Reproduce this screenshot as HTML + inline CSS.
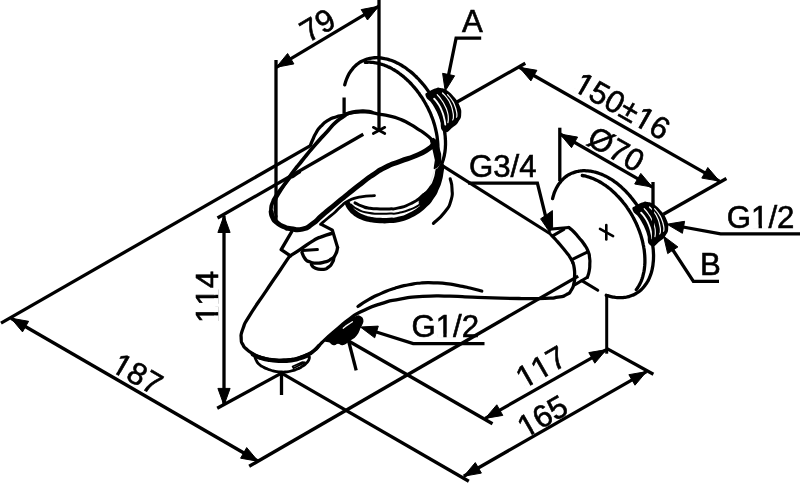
<!DOCTYPE html>
<html><head><meta charset="utf-8"><title>Bath mixer dimensions</title>
<style>
html,body{margin:0;padding:0;background:#fff;}
body{width:800px;height:483px;overflow:hidden;}
svg{display:block;}
text{font-family:"Liberation Sans",sans-serif;fill:#000;stroke:#000;stroke-width:0.6px;font-kerning:none;}
svg{will-change:transform;filter:grayscale(1);}
</style></head><body>
<svg width="800" height="483" viewBox="0 0 800 483">
<rect width="800" height="483" fill="#fff"/>
<g transform="translate(323 34.5) rotate(-30.5)"><text x="-17.4" y="0" font-size="31.2">79</text></g>
<g transform="translate(132 383.2) rotate(30)"><text x="-26" y="0" font-size="31.2">187</text><rect x="-24.55" y="-3.23" width="6.07" height="4.13" fill="#fff"/><rect x="-15.12" y="-3.23" width="5.83" height="4.13" fill="#fff"/></g>
<g transform="translate(217.6 297) rotate(-90)"><text x="-26" y="0" font-size="31.2">114</text><rect x="-24.55" y="-3.23" width="6.07" height="4.13" fill="#fff"/><rect x="-15.12" y="-3.23" width="5.83" height="4.13" fill="#fff"/><rect x="-7.20" y="-3.23" width="6.07" height="4.13" fill="#fff"/><rect x="2.23" y="-3.23" width="5.83" height="4.13" fill="#fff"/></g>
<g transform="translate(546.3 376.4) rotate(-29.8)"><text x="-26" y="0" font-size="31.2">117</text><rect x="-24.55" y="-3.23" width="6.07" height="4.13" fill="#fff"/><rect x="-15.12" y="-3.23" width="5.83" height="4.13" fill="#fff"/><rect x="-7.20" y="-3.23" width="6.07" height="4.13" fill="#fff"/><rect x="2.23" y="-3.23" width="5.83" height="4.13" fill="#fff"/></g>
<g transform="translate(547.7 425.5) rotate(-29.8)"><text x="-26" y="0" font-size="31.2">165</text><rect x="-24.55" y="-3.23" width="6.07" height="4.13" fill="#fff"/><rect x="-15.12" y="-3.23" width="5.83" height="4.13" fill="#fff"/></g>
<g transform="translate(616.9 115.3) rotate(29.6)"><text x="-51.9" y="0" font-size="31.2">150&#177;16</text><rect x="-50.47" y="-3.23" width="6.07" height="4.13" fill="#fff"/><rect x="-41.04" y="-3.23" width="5.83" height="4.13" fill="#fff"/><rect x="18.71" y="-3.23" width="6.07" height="4.13" fill="#fff"/><rect x="28.14" y="-3.23" width="5.83" height="4.13" fill="#fff"/></g>
<g transform="translate(610.8 158.4) rotate(29.6)"><text x="-29.5" y="0" font-size="31.2">&#216;70</text></g>
<g transform="translate(472.5 32.1) rotate(0)"><text x="-10.4" y="0" font-size="31.2">A</text></g>
<g transform="translate(502.7 177.1) rotate(0)"><text x="-33.8" y="0" font-size="31.2">G3/4</text></g>
<g transform="translate(760.6 228) rotate(0)"><text x="-33.8" y="0" font-size="31.2">G1/2</text><rect x="-8.08" y="-3.23" width="6.07" height="4.13" fill="#fff"/><rect x="1.35" y="-3.23" width="5.83" height="4.13" fill="#fff"/></g>
<g transform="translate(710.3 275.2) rotate(0)"><text x="-10.4" y="0" font-size="31.2">B</text></g>
<g transform="translate(445.3 337) rotate(0)"><text x="-33.8" y="0" font-size="31.2">G1/2</text><rect x="-8.08" y="-3.23" width="6.07" height="4.13" fill="#fff"/><rect x="1.35" y="-3.23" width="5.83" height="4.13" fill="#fff"/></g>
<line x1="276" y1="60" x2="276" y2="220" stroke="#000" stroke-width="3.3" stroke-linecap="butt"/>
<line x1="379" y1="0" x2="379" y2="130.5" stroke="#000" stroke-width="3.3" stroke-linecap="butt"/>
<line x1="276.3" y1="67.3" x2="378.8" y2="6.2" stroke="#000" stroke-width="3.3" stroke-linecap="butt"/>
<path d="M276.3 67.3 L287.6 53.5 L293.9 63.9 Z" fill="#000" stroke="#000" stroke-width="1" stroke-linejoin="miter"/>
<path d="M378.8 6.2 L367.5 20 L361.2 9.6 Z" fill="#000" stroke="#000" stroke-width="1" stroke-linejoin="miter"/>
<line x1="1" y1="323.1" x2="309.6" y2="146.1" stroke="#000" stroke-width="3.3" stroke-linecap="butt"/>
<line x1="11" y1="318.2" x2="258.2" y2="461.3" stroke="#000" stroke-width="3.3" stroke-linecap="butt"/>
<path d="M11 318.2 L28.6 321.3 L22.5 331.9 Z" fill="#000" stroke="#000" stroke-width="1" stroke-linejoin="miter"/>
<path d="M258.2 461.3 L240.6 458.2 L246.7 447.6 Z" fill="#000" stroke="#000" stroke-width="1" stroke-linejoin="miter"/>
<line x1="249.2" y1="466.3" x2="578.2" y2="276.1" stroke="#000" stroke-width="3.3" stroke-linecap="butt"/>
<line x1="217.5" y1="218" x2="363.3" y2="134.3" stroke="#000" stroke-width="3.3" stroke-linecap="butt"/>
<line x1="224" y1="215.7" x2="224" y2="405" stroke="#000" stroke-width="3.3" stroke-linecap="butt"/>
<path d="M224 215.7 L230.1 232.5 L217.9 232.5 Z" fill="#000" stroke="#000" stroke-width="1" stroke-linejoin="miter"/>
<path d="M224 405.2 L217.9 388.4 L230.1 388.4 Z" fill="#000" stroke="#000" stroke-width="1" stroke-linejoin="miter"/>
<line x1="217.2" y1="408.2" x2="281.5" y2="373.1" stroke="#000" stroke-width="3.3" stroke-linecap="butt"/>
<line x1="281.5" y1="373" x2="281.5" y2="395" stroke="#000" stroke-width="3.3" stroke-linecap="butt"/>
<line x1="281.5" y1="373.1" x2="468.8" y2="481.2" stroke="#000" stroke-width="3.3" stroke-linecap="butt"/>
<line x1="349" y1="341.2" x2="492.5" y2="423.8" stroke="#000" stroke-width="3.3" stroke-linecap="butt"/>
<line x1="348.6" y1="341" x2="356.2" y2="370.3" stroke="#000" stroke-width="3.3" stroke-linecap="butt"/>
<line x1="485.2" y1="418.4" x2="606.4" y2="349.6" stroke="#000" stroke-width="3.3" stroke-linecap="butt"/>
<path d="M485.2 418.4 L496.8 404.8 L502.8 415.4 Z" fill="#000" stroke="#000" stroke-width="1" stroke-linejoin="miter"/>
<path d="M606.4 349.6 L594.8 363.2 L588.8 352.6 Z" fill="#000" stroke="#000" stroke-width="1" stroke-linejoin="miter"/>
<line x1="463.8" y1="476.2" x2="646.5" y2="371.6" stroke="#000" stroke-width="3.3" stroke-linecap="butt"/>
<path d="M463.8 476.2 L475.3 462.6 L481.4 473.1 Z" fill="#000" stroke="#000" stroke-width="1" stroke-linejoin="miter"/>
<path d="M646.5 371.6 L635 385.2 L628.9 374.7 Z" fill="#000" stroke="#000" stroke-width="1" stroke-linejoin="miter"/>
<line x1="606.7" y1="295" x2="606.7" y2="353.7" stroke="#000" stroke-width="3" stroke-linecap="butt"/>
<line x1="606.6" y1="348.4" x2="653.4" y2="374.3" stroke="#000" stroke-width="3.3" stroke-linecap="butt"/>
<line x1="457" y1="102" x2="525.3" y2="63.3" stroke="#000" stroke-width="3.3" stroke-linecap="butt"/>
<line x1="663.4" y1="214.2" x2="726.4" y2="178.5" stroke="#000" stroke-width="3.3" stroke-linecap="butt"/>
<line x1="519.3" y1="67.3" x2="719.4" y2="181.1" stroke="#000" stroke-width="3.3" stroke-linecap="butt"/>
<path d="M519.3 67.3 L536.9 70.3 L530.9 80.9 Z" fill="#000" stroke="#000" stroke-width="1" stroke-linejoin="miter"/>
<path d="M719.4 181.1 L701.8 178.1 L707.8 167.5 Z" fill="#000" stroke="#000" stroke-width="1" stroke-linejoin="miter"/>
<line x1="559.8" y1="127.7" x2="559.8" y2="181" stroke="#000" stroke-width="3.3" stroke-linecap="butt"/>
<line x1="653" y1="182" x2="653" y2="206" stroke="#000" stroke-width="3.3" stroke-linecap="butt"/>
<line x1="560" y1="134" x2="652.3" y2="187.1" stroke="#000" stroke-width="3.3" stroke-linecap="butt"/>
<path d="M560 134 L577.6 137.1 L571.5 147.7 Z" fill="#000" stroke="#000" stroke-width="1" stroke-linejoin="miter"/>
<path d="M652.3 187.1 L634.7 184 L640.8 173.4 Z" fill="#000" stroke="#000" stroke-width="1" stroke-linejoin="miter"/>
<path d="M481.2 38.2 L456.1 38.2 L446.3 86" fill="none" stroke="#000" stroke-width="3.3" stroke-linecap="butt" stroke-linejoin="miter"/>
<path d="M445.2 91 L442.6 73.3 L454.6 75.8 Z" fill="#000" stroke="#000" stroke-width="1" stroke-linejoin="miter"/>
<path d="M468.1 183.2 L537.4 183.2 L548.5 228" fill="none" stroke="#000" stroke-width="3.3" stroke-linecap="butt" stroke-linejoin="miter"/>
<path d="M549.8 232.3 L540.6 218.8 L546 215.2 L552.4 210.6 L552.6 227Z" fill="#000" stroke="#000" stroke-width="1" stroke-linecap="butt" stroke-linejoin="round"/>
<path d="M800 233.9 L720.6 233.9 L672 225" fill="none" stroke="#000" stroke-width="3.3" stroke-linecap="butt" stroke-linejoin="miter"/>
<path d="M667 224.2 L684.6 221.3 L682.4 233.3 Z" fill="#000" stroke="#000" stroke-width="1" stroke-linejoin="miter"/>
<path d="M719 281.4 L693.4 281.4 L667 241" fill="none" stroke="#000" stroke-width="3.3" stroke-linecap="butt" stroke-linejoin="miter"/>
<path d="M663.6 236.2 L677.9 246.9 L667.7 253.6 Z" fill="#000" stroke="#000" stroke-width="1" stroke-linejoin="miter"/>
<path d="M484.5 343.6 L413.2 343.6 L366 328.8" fill="none" stroke="#000" stroke-width="3.3" stroke-linecap="butt" stroke-linejoin="miter"/>
<path d="M360.4 327 L378.3 326.1 L374.7 337.8 Z" fill="#000" stroke="#000" stroke-width="1" stroke-linejoin="miter"/>
<path d="M344.7 84.9 C345.1 83.8 345 83.7 345.7 81.5 C346.5 79.2 346.1 80.3 347 78.2 C347.9 76 347.4 77.1 348.4 75.1 C349.5 73.1 348.9 74 350.1 72.2 C351.3 70.4 350.6 71.2 352 69.6 C353.3 67.9 352.6 68.7 354 67.2 C355.5 65.6 354.7 66.4 356.3 65 C357.8 63.7 357 64.3 358.7 63.1 C360.4 62 359.5 62.5 361.3 61.5 C363.1 60.5 362.2 61 364.1 60.2 C366 59.4 365 59.7 367 59.1 C368.9 58.5 367.9 58.8 370 58.4 C372.1 58 371 58.1 373.1 57.9 C375.3 57.7 374.2 57.7 376.4 57.7 C378.6 57.7 377.5 57.7 379.7 57.9 C381.9 58.1 380.8 57.9 383.1 58.3 C385.4 58.7 384.2 58.4 386.5 59 C388.8 59.6 387.7 59.3 390 60 C392.3 60.8 391.2 60.4 393.5 61.3 C395.9 62.3 394.7 61.8 397 62.9 C399.4 64.1 398.2 63.4 400.5 64.8 C402.8 66.1 401.7 65.4 404 66.9 C406.3 68.4 405.1 67.6 407.4 69.3 C409.7 70.9 408.5 70.1 410.8 71.9 C413 73.7 411.9 72.8 414 74.7 C416.2 76.7 415.1 75.7 417.2 77.8 C419.3 79.9 418.3 78.8 420.3 81.1 C422.3 83.3 421.3 82.2 423.3 84.5 C425.2 86.9 424.2 85.7 426.1 88.1 C427.9 90.6 427 89.4 428.7 91.9 C430.5 94.5 429.6 93.2 431.3 95.9 C432.9 98.5 432.1 97.2 433.6 99.9 C435.1 102.6 434.4 101.2 435.7 104 C437.1 106.8 436.5 105.4 437.7 108.3 C438.9 111.1 438.4 109.7 439.5 112.5 C440.6 115.4 440.1 114 441 116.9 C442 119.7 441.5 118.3 442.3 121.2 C443.1 124.1 442.8 122.6 443.4 125.5 C444.1 128.4 443.8 127 444.3 129.9 C444.8 132.7 444.6 131.3 444.9 134.1 C445.3 137 445.2 135.6 445.3 138.4 C445.5 141.1 445.5 139.8 445.5 142.5 C445.5 145.2 445.6 143.9 445.4 146.5 C445.3 149.2 445.4 147.9 445.1 150.5 C444.8 153 445 151.8 444.5 154.2 C444.1 156.7 444.4 155.5 443.7 157.9 C443.1 160.2 443.5 159.1 442.7 161.3 C442 163.6 441.9 163.5 441.5 164.6" fill="none" stroke="#000" stroke-width="3.3" stroke-linecap="round" stroke-linejoin="round"/>
<path d="M365.3 62.4 C366 62.4 366 62.3 367.5 62.3 C368.9 62.2 368.2 62.2 369.6 62.2 C371.1 62.3 370.4 62.2 371.8 62.3 C373.3 62.5 372.6 62.4 374.1 62.6 C375.6 62.8 374.8 62.7 376.4 63 C377.9 63.2 377.1 63.1 378.6 63.4 C380.2 63.8 379.4 63.6 381 64.1 C382.5 64.5 381.7 64.3 383.3 64.8 C384.8 65.4 384.1 65.1 385.6 65.7 C387.2 66.3 386.4 66 387.9 66.7 C389.5 67.4 388.7 67 390.3 67.8 C391.8 68.6 391 68.2 392.6 69.1 C394.1 69.9 393.4 69.5 394.9 70.4 C396.4 71.4 395.7 70.9 397.2 71.9 C398.7 72.9 397.9 72.4 399.4 73.5 C401 74.6 400.2 74 401.7 75.2 C403.2 76.4 402.4 75.8 403.9 77 C405.4 78.2 404.6 77.6 406.1 78.9 C407.5 80.2 406.8 79.5 408.2 80.9 C409.6 82.3 408.9 81.6 410.3 83 C411.7 84.4 411 83.7 412.3 85.2 C413.7 86.7 413 85.9 414.3 87.4 C415.6 89 415 88.2 416.3 89.8 C417.5 91.4 416.9 90.6 418.1 92.2 C419.4 93.8 418.8 93 419.9 94.7 C421.1 96.4 420.5 95.5 421.7 97.2 C422.8 99 422.3 98.1 423.3 99.8 C424.4 101.6 423.9 100.7 424.9 102.5 C426 104.3 425.5 103.4 426.4 105.2 C427.4 107 426.9 106.1 427.9 108 C428.8 109.8 428.3 108.9 429.2 110.8 C430.1 112.6 429.7 111.7 430.5 113.6 C431.3 115.5 430.9 114.5 431.6 116.4 C432.4 118.3 432 117.4 432.7 119.3 C433.4 121.2 433.1 120.2 433.7 122.2 C434.3 124.1 434 123.1 434.6 125.1 C435.1 127 434.8 126 435.3 127.9 C435.8 129.9 435.6 128.9 436 130.8 C436.4 132.7 436.2 131.8 436.6 133.7 C436.9 135.6 436.8 134.7 437.1 136.6 C437.3 138.4 437.2 137.5 437.4 139.4 C437.6 141.3 437.6 140.3 437.7 142.2 C437.8 144 437.8 143.1 437.9 145 C437.9 146.8 437.9 145.9 437.9 147.7 C437.9 149.5 437.9 148.6 437.8 150.4 C437.8 152.1 437.8 151.3 437.7 153 C437.5 154.7 437.6 153.9 437.4 155.6 C437.2 157.3 437.2 157.3 437.1 158.1" fill="none" stroke="#000" stroke-width="3.3" stroke-linecap="round" stroke-linejoin="round"/>
<line x1="344.1" y1="97.5" x2="344.1" y2="113.8" stroke="#000" stroke-width="3.3" stroke-linecap="butt"/>
<path d="M427 96.5 C425.7 92.7 426.7 94.8 429.5 92.5 C432.3 90.2 431.8 90.8 435.5 89.6 C439.2 88.4 436.8 88.4 440.5 89 C444.2 89.6 442.2 88.5 446.5 91.5 C450.8 94.5 449.5 93.2 453.5 98 C457.5 102.8 456.3 100.7 458.5 106 C460.7 111.3 460.3 109.2 460.1 114 C459.9 118.8 460.4 116.5 457.9 120.5 C455.4 124.5 457.2 122.7 452.5 126 C447.8 129.3 447.7 133 443.7 130.3 C439.7 127.6 443.9 126.8 440.5 118 C437.1 109.2 438 111.2 433.5 104 C429 96.8 428.3 100.3 427 96.5Z" fill="#000" stroke="#000" stroke-width="2.2" stroke-linecap="round" stroke-linejoin="round"/>
<path d="M434.1 98.6 C435.5 100.4 435.8 100 438.3 104 C440.8 108 439.8 105.8 441.7 110.5 C443.6 115.2 442.9 113.3 444.1 118 C445.3 122.7 444.9 122.4 445.3 124.6" fill="none" stroke="#fff" stroke-width="1.8" stroke-linecap="round" stroke-linejoin="round"/>
<path d="M437.2 94.6 C438.6 96.4 438.9 96.2 441.5 100 C444.1 103.8 443 102 445 106 C447 110 446.3 108 447.4 112 C448.5 116 448.1 114.5 448.3 118 C448.5 121.5 448 121.1 447.9 122.6" fill="none" stroke="#fff" stroke-width="1.2" stroke-linecap="round" stroke-linejoin="round"/>
<path d="M442.5 93 C444 94.7 444.3 94.3 447 98 C449.7 101.7 448.6 99.7 450.5 104 C452.4 108.3 451.7 106.7 452.7 111 C453.7 115.3 453.4 114 453.4 117 C453.4 120 452.9 119 452.7 120" fill="none" stroke="#fff" stroke-width="1.2" stroke-linecap="round" stroke-linejoin="round"/>
<path d="M447.5 94.6 C448.8 96.2 449.2 96 451.5 99.5 C453.8 103 452.9 101.2 454.5 105 C456.1 108.8 455.6 107.5 456.4 111 C457.2 114.5 456.9 113.4 456.9 115.5 C456.9 117.6 456.6 116.6 456.5 117.2" fill="none" stroke="#fff" stroke-width="1.2" stroke-linecap="round" stroke-linejoin="round"/>
<line x1="373.3" y1="127.3" x2="384.8" y2="133.5" stroke="#000" stroke-width="2.7" stroke-linecap="round"/>
<line x1="373.3" y1="133.5" x2="384.8" y2="127.3" stroke="#000" stroke-width="2.7" stroke-linecap="round"/>
<path d="M433.8 141.5 C431.2 139.2 431.4 138.7 426 134.5 C420.6 130.3 423.5 132.6 417.5 128.8 C411.5 125 414.2 126.3 408 123 C401.8 119.7 404.8 121.1 398.8 118.8 C392.8 116.5 397.1 117.9 390 116.2 C382.9 114.5 385.8 115.2 377.5 113.8 C369.2 112.4 373.3 112.3 365 111.9 C356.7 111.5 359.6 111.6 352.5 112.7 C345.4 113.8 349.3 113.8 343.8 115.2 C338.3 116.6 341.1 115.3 336 117 C330.9 118.7 333.4 117.1 328.4 120.2 C323.4 123.3 325.1 121.9 321 126.2 C316.9 130.5 318.8 128.4 316 133 C313.2 137.6 314.5 135.8 312.6 140 C310.7 144.2 311.1 143.7 310.4 145.5" fill="none" stroke="#000" stroke-width="3.3" stroke-linecap="round" stroke-linejoin="round"/>
<path d="M346 114 C349.3 113.2 349.3 112.5 356 111.6 C362.7 110.7 360.7 111 366 111.2 C371.3 111.4 370 111.9 372 112.2" fill="none" stroke="#000" stroke-width="3.6" stroke-linecap="round" stroke-linejoin="round"/>
<path d="M345 115.6 C342.1 117.7 342 116.7 336.2 121.9 C330.4 127.1 334.1 124 327.5 131.2 C320.9 138.4 323.4 135.4 316.3 143.5 C309.2 151.6 311.6 149 306.2 155.5 C300.8 162 304.3 158 300.2 163 C296.1 168 299.1 163.8 294 170.6 C288.9 177.4 290.9 175.2 285 183.5 C279.1 191.8 280.3 189.2 276.2 195.5 C272.1 201.8 274.3 198.2 272.6 202.5 C270.9 206.8 271.4 204.7 271 208.5 C270.6 212.3 271.3 212.2 271.4 214" fill="none" stroke="#000" stroke-width="3.7" stroke-linecap="round" stroke-linejoin="round"/>
<path d="M300 172.4 C298 173.7 298 173.3 294 176.2 C290 179.1 292.9 175.1 288 181 C283.1 186.9 283.3 187.3 279.2 194 C275.1 200.7 277.3 197 275.8 201 C274.3 205 275.1 202.7 274.8 206 C274.5 209.3 274.5 207.5 275 211 C275.5 214.5 275.9 214.7 276.4 216.5" fill="none" stroke="#000" stroke-width="2.3" stroke-linecap="round" stroke-linejoin="round"/>
<path d="M271.2 212 C271.7 213.9 270.9 214.1 272.8 217.6 C274.7 221.1 273.3 219.5 277 222.6 C280.7 225.7 279.3 224.8 284 226.8 C288.7 228.8 284.8 227.9 291 228.7 C297.2 229.5 295.3 230.7 302.5 229.1 C309.7 227.5 305.8 228.5 312.5 223.8 C319.2 219.1 315 221.4 322.5 215 C330 208.6 326.4 211.7 335 204.6 C343.6 197.5 339.2 201 348.4 193.6 C357.6 186.2 354.3 188.8 362.5 182.5 C370.7 176.2 365.5 179.8 373 174.8 C380.5 169.8 376 172 385 167.5 C394 163 390 165.1 400 161.3 C410 157.5 405.8 159.9 415 156 C424.2 152.1 421.2 153.7 427.5 149.6 C433.8 145.5 431.7 145.7 433.8 143.8" fill="none" stroke="#000" stroke-width="5" stroke-linecap="round" stroke-linejoin="round"/>
<path d="M320.5 224.3 C323 222.2 323.2 222 328 218 C332.8 214 330.7 216.2 335 212.3 C339.3 208.4 336.3 210.3 341 206.4 C345.7 202.5 342.3 203.7 349 200.5 C355.7 197.3 352.5 198.4 361 196.8 C369.5 195.2 370 196.1 374.5 195.7" fill="none" stroke="#000" stroke-width="2.8" stroke-linecap="round" stroke-linejoin="round"/>
<path d="M430.6 140.6 L433.4 138.6 L436.6 141 L440.4 154 L440.6 162 L437.6 166.5 L434.4 168.4 L435.6 160 L433.6 151Z" fill="#000" stroke="#000" stroke-width="1.5" stroke-linecap="butt" stroke-linejoin="round"/>
<path d="M347.5 203.5 C348.5 205.2 348 205.3 350.5 208.5 C353 211.7 351.2 210.2 355 213 C358.8 215.8 357 214.9 362 217 C367 219.1 364 218.2 370 219.4 C376 220.6 373.5 220.2 380 220.5 C386.5 220.8 383.3 220.8 389.5 220.4 C395.7 220 391.4 221.1 398.6 219.3 C405.8 217.5 402.7 219.3 411 214.9 C419.3 210.5 416.7 212.2 423.5 206.2 C430.3 200.2 427.2 203.1 431.5 197 C435.8 190.9 433.8 193.7 436.4 188 C439 182.3 437.8 185.2 439.3 180 C440.8 174.8 440 177 440.8 172.5 C441.6 168 441.3 168.5 441.6 166.5" fill="none" stroke="#000" stroke-width="5.4" stroke-linecap="round" stroke-linejoin="round"/>
<path d="M355 202.8 C357.3 203.9 357 204.4 362 206.2 C367 208 364 207.4 370 208.3 C376 209.2 373.5 208.7 380 208.9 C386.5 209.1 383.3 209.2 389.5 208.9 C395.7 208.6 391.4 209.7 398.6 207.9 C405.8 206.1 403.1 207.5 411 203.5 C418.9 199.5 416 201 422.2 196 C428.4 191 425.5 193.9 429.7 188.6 C433.9 183.3 432.3 186.2 434.7 180 C437.1 173.8 436.2 173.3 437 170" fill="none" stroke="#000" stroke-width="3" stroke-linecap="round" stroke-linejoin="round"/>
<path d="M351 204.5 C353.3 206.2 352.3 206.7 358 209.5 C363.7 212.3 360.7 211.4 368 212.8 C375.3 214.2 372.7 213.4 380 213.7 C387.3 214 383.8 213.9 390 213.6 C396.2 213.3 391.6 214.4 398.6 212.9 C405.6 211.4 403.5 212.2 411 209.1 C418.5 206 415.3 207.7 421 203.5 C426.7 199.3 425.7 198.8 428 196.5" fill="none" stroke="#000" stroke-width="2" stroke-linecap="round" stroke-linejoin="round"/>
<path d="M420 198 C422.1 192.1 424.8 194.6 429.7 188.6 C434.6 182.6 432.3 186.2 434.7 180 C437.1 173.8 434.7 174.5 437 170 C439.3 165.5 440.3 165.7 441.6 166.5 C442.9 167.3 441.6 168 440.8 172.5 C440 177 440.8 174.8 439.3 180 C437.8 185.2 439 182.3 436.4 188 C433.8 193.7 435.8 190.9 431.5 197 C427.2 203.1 427.3 205.9 423.5 206.2 C419.7 206.5 417.9 203.9 420 198Z" fill="#000" stroke="#000" stroke-width="1" stroke-linecap="round" stroke-linejoin="round"/>
<path d="M450.2 178.7 C450.8 182 451.8 181.2 452 188.6 C452.2 196 453.3 193.1 450.8 201 C448.3 208.9 450.4 204.7 444.6 212.2 C438.8 219.7 437.1 219.7 433.4 223.4" fill="none" stroke="#000" stroke-width="3.1" stroke-linecap="round" stroke-linejoin="round"/>
<path d="M436.5 167 C435 170.7 434.3 170.3 432 178 C429.7 185.7 430.3 186 429.5 190" fill="none" stroke="#000" stroke-width="0.1" stroke-linecap="round" stroke-linejoin="round"/>
<path d="M291.8 231.5 L281.2 249.6 L290.4 255.8" fill="none" stroke="#000" stroke-width="3.4" stroke-linecap="round" stroke-linejoin="round"/>
<path d="M290.4 255.8 C293.6 253.7 292.2 254.7 300 249.6 C307.8 244.5 306.5 244.7 313.8 240.4 C321.1 236.1 315.8 239 322 236.6 C328.2 234.2 329 234.3 332.5 233.2" fill="none" stroke="#000" stroke-width="3.4" stroke-linecap="round" stroke-linejoin="round"/>
<path d="M321.8 224.6 L332.4 230.2 L337.6 247.5" fill="none" stroke="#000" stroke-width="3.2" stroke-linecap="round" stroke-linejoin="round"/>
<line x1="302.6" y1="250.6" x2="317.4" y2="249.5" stroke="#000" stroke-width="3" stroke-linecap="round"/>
<path d="M337.6 247.5 C336.9 249.8 337.7 250.6 335.5 254.5 C333.3 258.4 334.8 256.6 331 259.2 C327.2 261.8 328.9 260.9 324 262.2 C319.1 263.5 321 263.2 316.2 263.1 C311.4 263 313.2 263.3 309.5 261.8 C305.8 260.3 307.5 261.7 305 258.6 C302.5 255.5 303 254.6 302 252.6" fill="none" stroke="#000" stroke-width="3.3" stroke-linecap="round" stroke-linejoin="round"/>
<path d="M311.4 264.6 C312.6 265.8 311.3 266.5 315 268.1 C318.7 269.7 318 269.7 322.5 269.4 C327 269.1 325.2 269.5 328.5 267.2 C331.8 264.9 330.6 265.4 332.4 262.5 C334.2 259.6 333.3 259.8 333.8 258.4" fill="none" stroke="#000" stroke-width="3.3" stroke-linecap="round" stroke-linejoin="round"/>
<path d="M289.4 256.4 C286.4 260.9 288 258.6 280.3 270 C272.6 281.4 276.3 275.7 266.3 290.6 C256.3 305.5 258 302 250.2 314.6 C242.4 327.2 246 320.4 243 328.5 C240 336.6 241.2 333.4 241.2 338.8 C241.2 344.2 241.3 341.4 243 344.8 C244.7 348.2 243.6 346.3 246.4 349 C249.2 351.7 247.8 350.6 251.5 353 C255.2 355.4 252.7 354.3 257.5 356.2 C262.3 358.1 260.6 357.5 266 358.8 C271.4 360.1 268.1 359.5 273.8 360 C279.5 360.5 276.8 360.4 283 360.2 C289.2 360 286.7 360.2 292.5 359.4 C298.3 358.6 295.5 359.2 300.5 357.8 C305.5 356.4 303.5 357.1 307.5 355.2 C311.5 353.3 309.2 354.7 312.5 352 C315.8 349.3 313.3 351.3 317.5 347.2 C321.7 343.1 318.3 345.7 325 339.6 C331.7 333.5 329.2 335.8 337.5 328.8 C345.8 321.8 341.7 324.5 350 318.6 C358.3 312.7 352.1 316 362.5 311 C372.9 306 368.7 307.5 381.2 303.6 C393.7 299.7 386.2 301.6 400 299.2 C413.8 296.8 405.9 297.4 422.6 296.4 C439.3 295.4 431.6 295.9 450 296.2 C468.4 296.5 454.7 296.5 477.7 297.3 C500.7 298.1 496.6 298.2 519 298.5 C541.4 298.8 532 298.7 545 298.3 C558 297.9 551 298.3 558 297.2 C565 296.1 561.6 297.2 566 294.9 C570.4 292.6 568.6 294.2 571.3 290.2 C574 286.2 572.9 287.7 574 283 C575.1 278.3 574.5 281.1 574.6 276.1 C574.7 271.1 574.8 272.5 574.2 268 C573.6 263.5 573.3 264.3 572.8 262.5" fill="none" stroke="#000" stroke-width="3.3" stroke-linecap="round" stroke-linejoin="round"/>
<path d="M300 357.6 C302.7 356.5 303.3 356.7 308 354.4 C312.7 352.1 310.3 353.5 314 350.6 C317.7 347.7 317.3 347.3 319 345.6" fill="none" stroke="#000" stroke-width="3.6" stroke-linecap="round" stroke-linejoin="round"/>
<path d="M253 354.6 C255.3 355.6 255 355.9 260 357.6 C265 359.3 262.7 358.6 268 359.6 C273.3 360.6 270.7 360.2 276 360.6 C281.3 361 278.5 361 284 360.8 C289.5 360.6 287.2 360.9 292.5 360 C297.8 359.1 295.2 359.7 300 358.2 C304.8 356.7 304.7 356.5 307 355.6" fill="none" stroke="#000" stroke-width="4.4" stroke-linecap="round" stroke-linejoin="round"/>
<path d="M357.9 306.5 C361.6 304.1 361.2 303.8 369 299.4 C376.8 295 372.6 297.1 381.3 293.4 C390 289.7 385.8 291.1 395 288.2 C404.2 285.3 400.1 286.5 408.8 284.8 C417.5 283.1 412.7 283.7 421 283 C429.3 282.3 425.3 282.6 433.6 282.8 C441.9 283 437.7 282.7 446 283.6 C454.3 284.5 450.4 284.1 458.4 285.6 C466.4 287.1 462.2 286.2 470 288 C477.8 289.8 477.9 290 481.8 291" fill="none" stroke="#000" stroke-width="3.2" stroke-linecap="round" stroke-linejoin="round"/>
<path d="M255 357.5 C255.5 358.7 255.3 358.8 256.6 361 C257.9 363.2 256.8 362.1 258.8 364 C260.8 365.9 259.6 364.9 262.5 366.6 C265.4 368.3 264 367.6 267.5 369 C271 370.4 268.8 369.8 273 370.8 C277.2 371.8 275.3 371.6 280 371.9 C284.7 372.2 282.8 372.2 287 371.8 C291.2 371.4 288.8 371.6 292.5 370.6 C296.2 369.6 294.7 370.3 298 368.8 C301.3 367.3 299.7 368.1 302.5 366.2 C305.3 364.3 304.3 365.1 306.4 363 C308.5 360.9 307.8 361.8 308.8 359.8 C309.8 357.8 309.2 357.9 309.4 356.9" fill="none" stroke="#000" stroke-width="2.8" stroke-linecap="round" stroke-linejoin="round"/>
<path d="M292.6 366.6 L293.6 368.2 L305 362.4 L302 362.2Z" fill="none" stroke="#000" stroke-width="1.7" stroke-linecap="butt" stroke-linejoin="round"/>
<path d="M326.2 338.8 C328.7 334.8 330.6 335.3 337.5 330 C344.4 324.7 341.2 327.2 347 323 C352.8 318.8 350.7 319.6 355 317.5 C359.3 315.4 357.5 315.9 360 316.7 C362.5 317.5 362.1 317.4 362.6 320 C363.1 322.6 362.5 322 361.6 324.5 C360.7 327 361.8 324 360 327.5 C358.2 331 359.5 330.8 356.2 335 C352.9 339.2 353.2 337.5 350 340 C346.8 342.5 349 341 346.5 342.5 C344 344 345.3 344.2 342.5 344.4 C339.7 344.6 340.9 343 338 343 C335.1 343 336.5 344.8 333.8 344.4 C331.1 344 332.5 343.8 330 341.9 C327.5 340 323.7 342.8 326.2 338.8Z" fill="#000" stroke="#000" stroke-width="1.5" stroke-linecap="round" stroke-linejoin="round"/>
<path d="M343.2 328.2 C344.8 327 344.9 326.7 348 324.6 C351.1 322.5 350.9 322.7 352.4 321.8" fill="none" stroke="#fff" stroke-width="1.3" stroke-linecap="round" stroke-linejoin="round"/>
<line x1="441.9" y1="165.4" x2="550.6" y2="234" stroke="#000" stroke-width="3.1" stroke-linecap="butt"/>
<path d="M551.9 229 L568.8 227.5" fill="none" stroke="#000" stroke-width="3.2" stroke-linecap="round" stroke-linejoin="miter"/>
<path d="M568.8 227.5 C570.5 229 570.7 228.7 574 232 C577.3 235.3 575.5 233.5 578.8 237.5 C582.1 241.5 580.9 239.4 584 244 C587.1 248.6 586.2 246.7 588.1 251.4 C590 256.1 589 253.8 589.6 258 C590.2 262.2 589.9 259.7 589.8 264 C589.7 268.3 590 266.6 589.2 271 C588.4 275.4 588 275.2 587.4 277.3" fill="none" stroke="#000" stroke-width="3.2" stroke-linecap="round" stroke-linejoin="round"/>
<path d="M551.2 235 C552.8 236.7 552.6 236.3 556 240 C559.4 243.7 557.9 242 561.4 246.2 C564.9 250.4 563.6 248.7 566.5 252.5 C569.4 256.3 568.1 254.3 570.2 257.6 C572.3 260.9 571.9 260.9 572.8 262.5" fill="none" stroke="#000" stroke-width="3.2" stroke-linecap="round" stroke-linejoin="round"/>
<line x1="553.1" y1="235.6" x2="563.8" y2="229.4" stroke="#000" stroke-width="3" stroke-linecap="round"/>
<line x1="571.4" y1="259.8" x2="587.8" y2="251.8" stroke="#000" stroke-width="3" stroke-linecap="round"/>
<line x1="587.4" y1="277.3" x2="575" y2="284.6" stroke="#000" stroke-width="3" stroke-linecap="round"/>
<line x1="581.8" y1="280.6" x2="597.8" y2="290.3" stroke="#000" stroke-width="3" stroke-linecap="round"/>
<path d="M552.6 198.6 C553 197 552.9 196.9 553.9 193.9 C555 190.9 554.4 192.3 555.7 189.6 C557 186.8 556.3 188.2 557.8 185.7 C559.3 183.2 558.5 184.3 560.3 182.1 C562.1 179.9 561.1 180.9 563.1 179 C565.2 177.1 564.1 178 566.3 176.4 C568.5 174.8 567.4 175.5 569.8 174.2 C572.2 173 571 173.5 573.6 172.6 C576.1 171.7 574.8 172 577.5 171.5 C580.3 170.9 578.9 171.1 581.7 170.8 C584.6 170.6 583.2 170.6 586.1 170.8 C589.1 170.9 587.6 170.7 590.6 171.2 C593.7 171.7 592.1 171.4 595.2 172.2 C598.3 173 596.8 172.5 599.9 173.7 C603 174.9 601.5 174.2 604.6 175.7 C607.7 177.2 606.1 176.4 609.2 178.2 C612.3 180 610.8 179 613.8 181.1 C616.9 183.3 615.4 182.1 618.4 184.5 C621.3 187 619.9 185.7 622.7 188.4 C625.6 191 624.2 189.7 626.9 192.6 C629.7 195.5 628.3 194 630.9 197.1 C633.5 200.3 632.3 198.7 634.7 202 C637.1 205.3 635.9 203.6 638.2 207.1 C640.4 210.6 639.3 208.8 641.4 212.5 C643.4 216.1 642.4 214.3 644.2 218 C646 221.7 645.2 219.9 646.7 223.7 C648.3 227.5 647.6 225.6 648.9 229.4 C650.2 233.3 649.6 231.4 650.6 235.2 C651.7 239.1 651.2 237.2 652 241 C652.7 244.9 652.4 243 652.9 246.8 C653.4 250.6 653.2 248.7 653.4 252.4 C653.6 256.1 653.6 254.3 653.5 257.9 C653.4 261.5 653.5 259.7 653.1 263.2 C652.8 266.6 653 264.9 652.4 268.2 C651.7 271.5 652.1 269.9 651.2 273 C650.2 276 650.8 274.6 649.6 277.4 C648.4 280.2 649 278.9 647.6 281.5 C646.1 284 646.9 282.8 645.2 285.1 C643.5 287.4 644.4 286.4 642.5 288.4 C640.5 290.4 641.5 289.5 639.4 291.2 C637.2 292.9 638.4 292.1 636 293.5 C633.7 294.9 634.9 294.3 632.3 295.3 C629.8 296.3 631.1 295.9 628.4 296.6 C625.7 297.3 627.1 297.1 624.3 297.4 C621.5 297.8 622.9 297.7 620 297.7 C617.1 297.7 618.5 297.7 615.5 297.4 C612.5 297 614 297.3 610.9 296.6 C607.9 295.9 607.8 295.7 606.3 295.3" fill="none" stroke="#000" stroke-width="3.3" stroke-linecap="round" stroke-linejoin="round"/>
<path d="M582.3 175.5 C583.1 175.6 583.1 175.6 584.8 175.9 C586.4 176.3 585.6 176.1 587.3 176.6 C589 177 588.1 176.8 589.8 177.4 C591.5 177.9 590.6 177.6 592.3 178.3 C594 179 593.2 178.6 594.9 179.4 C596.6 180.2 595.7 179.7 597.4 180.6 C599.1 181.5 598.3 181 600 182 C601.6 183 600.8 182.5 602.5 183.5 C604.1 184.6 603.3 184 605 185.2 C606.6 186.3 605.8 185.7 607.4 186.9 C609.1 188.2 608.3 187.5 609.9 188.8 C611.5 190.2 610.7 189.5 612.3 190.9 C613.8 192.3 613.1 191.6 614.6 193 C616.2 194.5 615.4 193.7 616.9 195.3 C618.4 196.8 617.7 196 619.1 197.6 C620.6 199.3 619.9 198.4 621.3 200.1 C622.7 201.8 622 200.9 623.4 202.7 C624.8 204.4 624.1 203.5 625.5 205.3 C626.8 207.1 626.1 206.2 627.4 208.1 C628.7 209.9 628.1 209 629.3 210.9 C630.5 212.8 629.9 211.8 631.1 213.7 C632.2 215.7 631.7 214.7 632.8 216.7 C633.9 218.6 633.3 217.7 634.4 219.7 C635.4 221.7 634.9 220.7 635.9 222.7 C636.8 224.7 636.4 223.7 637.2 225.8 C638.1 227.8 637.7 226.8 638.5 228.9 C639.3 230.9 639 229.9 639.7 232 C640.4 234.1 640.1 233 640.8 235.1 C641.4 237.2 641.1 236.2 641.7 238.3 C642.3 240.4 642 239.3 642.5 241.4 C643 243.5 642.8 242.5 643.2 244.6 C643.7 246.7 643.5 245.6 643.8 247.7 C644.2 249.8 644 248.8 644.3 250.8 C644.5 252.9 644.4 251.9 644.6 253.9 C644.8 255.9 644.7 254.9 644.8 256.9 C644.9 258.9 644.9 258 644.9 259.9 C644.9 261.9 644.9 260.9 644.9 262.9 C644.8 264.8 644.8 263.8 644.7 265.7 C644.5 267.6 644.6 266.7 644.4 268.6 C644.2 270.4 644.3 269.5 644 271.3 C643.6 273.1 643.8 272.2 643.4 273.9 C643 275.7 643.2 274.8 642.8 276.5 C642.3 278.2 642.5 277.4 642 279 C641.4 280.6 641.7 279.8 641.1 281.4 C640.4 282.9 640.8 282.2 640 283.6 C639.3 285.1 639.7 284.4 638.9 285.8 C638.1 287.2 638.5 286.5 637.6 287.8 C636.8 289.1 636.7 289.1 636.3 289.7" fill="none" stroke="#000" stroke-width="3.3" stroke-linecap="round" stroke-linejoin="round"/>
<line x1="606.3" y1="225" x2="606.3" y2="239.4" stroke="#000" stroke-width="2.6" stroke-linecap="round"/>
<line x1="600" y1="228.8" x2="613.1" y2="236.2" stroke="#000" stroke-width="2.6" stroke-linecap="round"/>
<path d="M634 210.5 C632.7 206.7 633.7 208.8 636.5 206.5 C639.3 204.2 638.8 204.8 642.5 203.6 C646.2 202.4 643.8 202.4 647.5 203 C651.2 203.6 649.2 202.5 653.5 205.5 C657.8 208.5 656.5 207.2 660.5 212 C664.5 216.8 663.3 214.7 665.5 220 C667.7 225.3 667.3 223.2 667.1 228 C666.9 232.8 667.4 230.5 664.9 234.5 C662.4 238.5 664.2 236.7 659.5 240 C654.8 243.3 654.7 247 650.7 244.3 C646.7 241.6 650.9 240.8 647.5 232 C644.1 223.2 645 225.2 640.5 218 C636 210.8 635.3 214.3 634 210.5Z" fill="#000" stroke="#000" stroke-width="2.2" stroke-linecap="round" stroke-linejoin="round"/>
<path d="M641.1 212.6 C642.5 214.4 642.8 214 645.3 218 C647.8 222 646.8 219.8 648.7 224.5 C650.6 229.2 649.9 227.3 651.1 232 C652.3 236.7 651.9 236.4 652.3 238.6" fill="none" stroke="#fff" stroke-width="1.8" stroke-linecap="round" stroke-linejoin="round"/>
<path d="M644.2 208.6 C645.6 210.4 645.9 210.2 648.5 214 C651.1 217.8 650 216 652 220 C654 224 653.3 222 654.4 226 C655.5 230 655.1 228.5 655.3 232 C655.5 235.5 655 235.1 654.9 236.6" fill="none" stroke="#fff" stroke-width="1.2" stroke-linecap="round" stroke-linejoin="round"/>
<path d="M649.5 207 C651 208.7 651.3 208.3 654 212 C656.7 215.7 655.6 213.7 657.5 218 C659.4 222.3 658.7 220.7 659.7 225 C660.7 229.3 660.4 228 660.4 231 C660.4 234 659.9 233 659.7 234" fill="none" stroke="#fff" stroke-width="1.2" stroke-linecap="round" stroke-linejoin="round"/>
<path d="M654.5 208.6 C655.8 210.2 656.2 210 658.5 213.5 C660.8 217 659.9 215.2 661.5 219 C663.1 222.8 662.6 221.5 663.4 225 C664.2 228.5 663.9 227.4 663.9 229.5 C663.9 231.6 663.6 230.6 663.5 231.2" fill="none" stroke="#fff" stroke-width="1.2" stroke-linecap="round" stroke-linejoin="round"/>
<line x1="653" y1="200" x2="653" y2="245" stroke="#000" stroke-width="2.2" stroke-linecap="butt"/>
</svg>
</body></html>
